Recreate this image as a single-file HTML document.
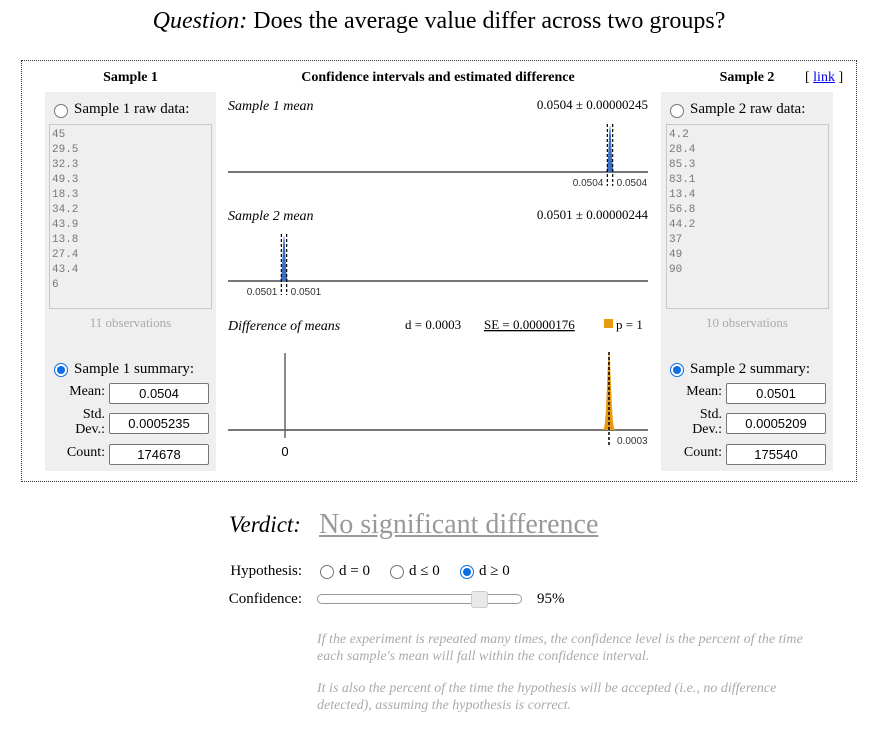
<!DOCTYPE html>
<html><head><meta charset="utf-8"><style>
body{margin:0;width:874px;height:736px;background:#fff;font-family:"Liberation Serif",serif;position:relative;overflow:hidden}
.a{position:absolute;white-space:nowrap}
.panel{position:absolute;background:#efefef}
.ta{position:absolute;border:1px solid #c8c8c8;background:#efefef;font-family:"Liberation Mono",monospace;font-size:11px;line-height:15px;color:#777;padding:3px 2px;box-sizing:border-box}
.inp{position:absolute;border:1px solid #767676;border-radius:2px;background:#fff;font-family:"Liberation Sans",sans-serif;font-size:13px;text-align:center;box-sizing:border-box;height:21px;line-height:19px}
.radio{position:absolute;width:12px;height:12px;border:1px solid #767676;border-radius:50%;background:#fff}
.radio.on{border:1px solid #0b6ee8;background:#fff}
.radio.on::after{content:"";position:absolute;left:2px;top:2px;width:8px;height:8px;border-radius:50%;background:#0b6ee8}
.lbl{font-size:14px;text-align:right}
</style></head><body>
<div class="a" style="left:0;width:878px;text-align:center;top:8px;font-size:24px"><i>Question:</i> Does the average value differ across two groups?</div>
<div class="a" style="left:21px;top:60px;width:834px;height:420px;border:1px dotted #333"></div>

<div class="a" style="left:45px;width:171px;text-align:center;top:70px;font-size:14px;font-weight:bold">Sample 1</div>
<div class="panel" style="left:45px;top:92px;width:171px;height:379px"></div>
<div class="radio" style="left:54px;top:104px"></div>
<div class="a" style="left:74px;top:101px;font-size:15px">Sample 1 raw data:</div>
<div class="ta" style="left:49px;top:124px;width:163px;height:185px">45<br>29.5<br>32.3<br>49.3<br>18.3<br>34.2<br>43.9<br>13.8<br>27.4<br>43.4<br>6</div>
<div class="a" style="left:45px;width:171px;text-align:center;top:315px;font-size:13px;color:#aaa">11 observations</div>
<div class="radio on" style="left:54px;top:363px"></div>
<div class="a" style="left:74px;top:361px;font-size:15px">Sample 1 summary:</div>
<div class="a lbl" style="left:50px;width:55px;top:384px">Mean:</div>
<div class="inp" style="left:109px;top:383px;width:100px">0.0504</div>
<div class="a lbl" style="left:50px;width:55px;top:407px;line-height:15px;white-space:normal">Std.<br>Dev.:</div>
<div class="inp" style="left:109px;top:413px;width:100px">0.0005235</div>
<div class="a lbl" style="left:50px;width:55px;top:445px">Count:</div>
<div class="inp" style="left:109px;top:444px;width:100px">174678</div>

<div class="a" style="left:661px;width:172px;text-align:center;top:70px;font-size:14px;font-weight:bold">Sample 2</div>
<div class="a" style="left:805px;top:70px;font-size:14px">[ <a href="#" style="color:#00e">link</a> ]</div>
<div class="panel" style="left:661px;top:92px;width:172px;height:379px"></div>
<div class="radio" style="left:670px;top:104px"></div>
<div class="a" style="left:690px;top:101px;font-size:15px">Sample 2 raw data:</div>
<div class="ta" style="left:666px;top:124px;width:163px;height:185px">4.2<br>28.4<br>85.3<br>83.1<br>13.4<br>56.8<br>44.2<br>37<br>49<br>90</div>
<div class="a" style="left:661px;width:172px;text-align:center;top:315px;font-size:13px;color:#aaa">10 observations</div>
<div class="radio on" style="left:670px;top:363px"></div>
<div class="a" style="left:690px;top:361px;font-size:15px">Sample 2 summary:</div>
<div class="a lbl" style="left:666px;width:56px;top:384px">Mean:</div>
<div class="inp" style="left:726px;top:383px;width:100px">0.0501</div>
<div class="a lbl" style="left:666px;width:56px;top:407px;line-height:15px;white-space:normal">Std.<br>Dev.:</div>
<div class="inp" style="left:726px;top:413px;width:100px">0.0005209</div>
<div class="a lbl" style="left:666px;width:56px;top:445px">Count:</div>
<div class="inp" style="left:726px;top:444px;width:100px">175540</div>

<div class="a" style="left:228px;width:420px;text-align:center;top:70px;font-size:14px;font-weight:bold">Confidence intervals and estimated difference</div>

<svg id="ch" class="a" style="left:0;top:0" width="874" height="480" font-family="Liberation Serif, serif"></svg>

<div class="a" style="left:229px;top:512px;font-size:23px;font-style:italic">Verdict:</div>
<div class="a" style="left:319px;top:509px;font-size:28px;color:#999;text-decoration:underline">No significant difference</div>
<div class="a lbl" style="left:200px;width:102px;top:563px;font-size:15px">Hypothesis:</div>
<div class="radio" style="left:320px;top:565px"></div>
<div class="a" style="left:339px;top:563px;font-size:15px">d = 0</div>
<div class="radio" style="left:390px;top:565px"></div>
<div class="a" style="left:409px;top:563px;font-size:15px">d ≤ 0</div>
<div class="radio on" style="left:460px;top:565px"></div>
<div class="a" style="left:479px;top:563px;font-size:15px">d ≥ 0</div>
<div class="a lbl" style="left:200px;width:102px;top:591px;font-size:15px">Confidence:</div>
<div class="a" style="left:317px;top:594px;width:205px;height:10px;border:1px solid #999;border-radius:5px;background:#fff;box-sizing:border-box"></div>
<div class="a" style="left:471px;top:591px;width:17px;height:17px;border:1px solid #ccc;border-radius:3px;background:#e9e9e9;box-sizing:border-box"></div>
<div class="a" style="left:537px;top:591px;font-size:15px">95%</div>
<div class="a" style="left:317px;top:631px;font-size:14px;font-style:italic;color:#aaa;line-height:17px">If the experiment is repeated many times, the confidence level is the percent of the time<br>each sample's mean will fall within the confidence interval.</div>
<div class="a" style="left:317px;top:680px;font-size:14px;font-style:italic;color:#aaa;line-height:17px">It is also the percent of the time the hypothesis will be accepted (i.e., no difference<br>detected), assuming the hypothesis is correct.</div>

<script>
const means=[0.0504,0.0501];
const halfWidths=[0.00000245,0.00000244];
const meanLabels=["0.0504","0.0501"];
const diffValue=0.0003;
const diffSE=0.00000176;
const diffLabel="0.0003";

const NS="http://www.w3.org/2000/svg";
const svg=document.getElementById('ch');
function el(t,a,txt){const e=document.createElementNS(NS,t);for(const k in a)e.setAttribute(k,a[k]);if(txt!==undefined)e.textContent=txt;svg.appendChild(e);return e;}
const X0=228,X1=648;
function xm(v){return 284+(v-0.0501)/0.0003*326;}
function xd(v){return 285+v/0.0003*324;}
function curve(xs,center,sd,base,top){
  let d='M'+xs(center-4*sd)+','+base;
  for(let i=-40;i<=40;i++){const z=i/10;const v=center+z*sd;d+=' L'+xs(v).toFixed(2)+','+(base-(base-top)*Math.exp(-z*z/2)).toFixed(2);}
  d+=' Z';return d;
}
const clip=el('clipPath',{id:'cp'});const r=document.createElementNS(NS,'rect');r.setAttribute('x',X0);r.setAttribute('y',0);r.setAttribute('width',X1-X0);r.setAttribute('height',480);clip.appendChild(r);
const bases=[172,281],tops=[126,236],titleY=[110,220];
const titles=["Sample 1 mean","Sample 2 mean"];
for(let i=0;i<2;i++){
  const t=el('text',{x:X0,y:titleY[i],'font-size':14,'font-style':'italic'},titles[i]);
  
  const v=el('text',{x:X1,y:titleY[i]-1,'font-size':13,'text-anchor':'end'},meanLabels[i]+' ± '+halfWidths[i].toFixed(8));
  
  const ax=el('line',{x1:X0,x2:X1,y1:bases[i],y2:bases[i],stroke:'#777','stroke-width':2});
  
  const sd=halfWidths[i]/1.96;
  const p=el('path',{d:curve(xm,means[i],sd,bases[i],tops[i]),fill:'#3a6fc4'});
  
  for(const s of [-1,1]){
    const x=xm(means[i]+s*halfWidths[i]);
    const dl=el('line',{x1:x,x2:x,y1:tops[i]-2,y2:bases[i]+14,stroke:'#000','stroke-width':1.2,'stroke-dasharray':'3,2'});
    
    const lb=el('text',{x:x+(s<0?-4:4),y:bases[i]+14,'font-size':10,'font-family':'Liberation Sans, sans-serif','text-anchor':s<0?'end':'start','clip-path':'url(#cp)',fill:'#333'},meanLabels[i]);
    
  }
}
svg.appendChild(clip);
let t=el('text',{x:X0,y:330,'font-size':14,'font-style':'italic'},'Difference of means');

t=el('text',{x:405,y:329,'font-size':13},'d = '+diffLabel);

t=el('text',{x:484,y:329,'font-size':13,'text-decoration':'underline'},'SE = '+diffSE.toFixed(8));

const sq=el('rect',{x:604,y:319,width:9,height:9,fill:'#e89a10'});

t=el('text',{x:616,y:329,'font-size':13},'p = 1');

const base=430;
let ln=el('line',{x1:X0,x2:X1,y1:base,y2:base,stroke:'#777','stroke-width':2});

ln=el('line',{x1:xd(0),x2:xd(0),y1:353,y2:438,stroke:'#666','stroke-width':1.5});

t=el('text',{x:xd(0),y:456,'font-size':13,'font-family':'Liberation Sans, sans-serif','text-anchor':'middle'},'0');

const dp=el('path',{d:curve(xd,diffValue,diffSE,base,352),fill:'#e89a10'});

ln=el('line',{x1:xd(diffValue),x2:xd(diffValue),y1:352,y2:447,stroke:'#000','stroke-width':1.5,'stroke-dasharray':'3,2'});

t=el('text',{x:xd(diffValue)+8,y:444,'font-size':10,'font-family':'Liberation Sans, sans-serif','clip-path':'url(#cp)',fill:'#333'},diffLabel);

</script>
</body></html>
